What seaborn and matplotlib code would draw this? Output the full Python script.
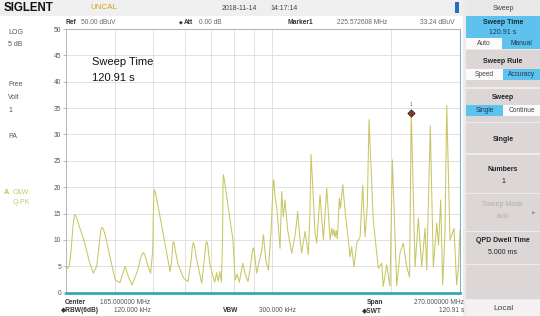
import matplotlib
matplotlib.use("Agg")
import matplotlib.pyplot as plt
from matplotlib.patches import Rectangle
from matplotlib.ticker import NullLocator, FixedLocator
import seaborn as sns
import pandas as pd

# ---------------- data ----------------
freq_mhz = [30.0, 30.3, 30.6, 30.9, 31.2, 31.45, 31.6, 31.8, 32.1, 33.3, 34.5, 35.2, 35.6, 35.9,
            36.4, 36.75, 37.0, 37.3, 37.7, 39.0, 40.0, 41.1, 42.4, 43.2, 44.1, 45.5, 46.6, 47.1, 47.6,
            48.2, 49.2, 49.8, 50.05, 50.25, 50.6, 51.2, 53.0, 55.1, 55.6, 55.95, 56.2, 56.5, 57.0,
            57.7, 58.4, 59.6, 61.2, 62.3, 62.8, 63.1, 63.5, 64.3, 66.3, 67.3, 67.9, 68.3, 68.7,
            69.5, 70.9, 71.6, 72.3, 73.0, 73.7, 74.4, 74.9, 75.1, 75.3, 75.8, 79.6, 80.6, 81.6,
            82.6, 84.3, 85.5, 86.9, 88.2, 89.2, 89.7, 90.3, 91.4, 94.2, 95.1, 96.5, 97.9, 99.5,
            100.6, 101.0, 101.8, 102.8, 104.8, 105.8, 106.8, 107.9, 109.5, 112.2, 114.5, 116.2,
            117.5, 118.9, 121.3, 123.6, 124.8, 125.6, 126.5, 128.6, 129.8, 132.4, 135.0, 137.7,
            140.4, 141.8, 142.6, 143.5, 144.5, 145.5, 146.5, 148.2, 149.2, 151.2, 153.2, 156.2,
            157.8, 159.3, 161.5, 164.1, 167.3, 169.9, 172.2, 174.5, 176.3, 180.7, 186.1, 189.8,
            191.6, 195.5, 199.3, 202.0, 207.3, 211.3, 215.4, 219.7, 223.4, 225.6, 230.7,
            235.2, 239.9, 244.6, 247.0, 252.2, 256.7, 261.9, 264.6, 268.0, 271.1, 274.8,
            277.6, 283.0, 289.7, 294.2, 297.4, 300.0]
level_dbuv = [5.0, 4.6, 5.2, 8.0, 12.0, 14.4, 14.8, 14.5, 13.6, 10.0, 5.5, 3.7, 4.5, 5.0,
              9.0, 11.8, 12.4, 12.1, 11.0, 6.0, 2.4, 1.9, 5.0, 3.0, 1.5, 4.0, 7.0, 7.6, 7.2,
              5.5, 3.7, 8.0, 17.5, 19.5, 19.0, 17.0, 11.0, 4.0, 6.0, 9.0, 9.7, 9.2, 7.5,
              5.5, 4.5, 2.8, 2.1, 6.0, 8.8, 9.5, 9.0, 6.5, 1.8, 6.0, 9.2, 9.7, 9.0,
              5.5, 3.0, 2.0, 3.8, 2.2, 4.0, 2.0, 10.0, 20.5, 22.4, 21.0, 10.0, 2.4, 3.5,
              2.0, 5.6, 3.5, 2.1, 5.0, 8.0, 8.5, 7.5, 3.7, 8.0, 11.0, 6.0, 4.3, 12.0,
              20.5, 21.4, 18.0, 16.3, 8.4, 19.2, 14.4, 17.6, 12.0, 7.5, 11.0, 15.4,
              11.0, 7.5, 11.6, 7.2, 15.0, 26.2, 22.0, 11.3, 9.4, 18.6, 10.0, 19.8,
              10.0, 12.3, 10.8, 12.0, 10.5, 11.8, 10.2, 17.9, 16.0, 20.5, 15.7, 10.0,
              6.8, 8.7, 4.9, 9.4, 10.6, 20.3, 10.6, 16.3, 32.8, 13.8, 4.6, 5.6,
              1.2, 5.3, 1.2, 25.2, 1.3, 7.5, 9.4, 4.9, 3.0, 34.5, 4.9,
              14.1, 4.9, 12.2, 4.3, 31.6, 4.9, 13.2, 9.0, 17.6, 1.5, 11.3,
              35.5, 10.0, 12.2, 1.5, 5.0, 11.9]
marker_freq = [225.572608]
marker_level = [34.0]
y_ticks = [0, 5, 10, 15, 20, 25, 30, 35, 40, 45, 50]
grid_freqs = [40, 50, 60, 70, 80, 90, 100, 200]

df = pd.DataFrame({"freq": freq_mhz, "level": level_dbuv})

# ---------------- figure ----------------
sns.set_theme(style="white")
plt.rcParams["font.family"] = ["Liberation Sans", "DejaVu Sans"]

W, H = 540, 316
fig = plt.figure(figsize=(W / 100, H / 100), dpi=100, facecolor="white")


def fx(x):
    return x / W


def fy(y):
    return 1 - y / H


def rect(x0, y0, x1, y1, color):
    fig.add_artist(Rectangle((fx(x0), fy(y1)), (x1 - x0) / W, (y1 - y0) / H,
                             transform=fig.transFigure, facecolor=color,
                             edgecolor="none", zorder=0))


def txt(x, y, s, size=5, color="#555555", weight="normal", ha="left", **kw):
    fig.text(fx(x), fy(y), s, fontsize=size, color=color, fontweight=weight,
             ha=ha, va="center", **kw)


# top bar
rect(0, 0, 463, 16, "#efefef")
txt(4, 8, "SIGLENT", size=8.3, color="#111111", weight="bold")
txt(90, 7.5, "UNCAL", size=5.8, color="#d4a214")
txt(222, 8, "2018-11-14", size=5, color="#444444")
txt(270, 8, "14:17:14", size=5, color="#444444")
rect(455, 2, 459, 13, "#1f6fc2")

# second row
txt(65, 22, "Ref", size=4.8, color="#333333", weight="bold")
txt(81, 22, "50.00 dBuV", size=4.8, color="#666666")
txt(179, 21.5, "\u25c6", size=3.5, color="#333333")
txt(184, 22, "Att", size=4.8, color="#333333", weight="bold")
txt(199, 22, "0.00 dB", size=4.8, color="#666666")
txt(288, 22, "Marker1", size=4.8, color="#333333", weight="bold")
txt(337, 22, "225.572608 MHz", size=4.8, color="#666666")
txt(420, 22, "33.24 dBuV", size=4.8, color="#666666")

# left panel
txt(8, 32, "LOG", size=5, color="#555555")
txt(8, 44, "5 dB", size=5, color="#555555")
txt(8, 84, "Free", size=5, color="#555555")
txt(8, 97, "Volt", size=5, color="#555555")
txt(8, 110, "1", size=5, color="#555555")
txt(8, 137, "PA", size=5, color="#555555")
txt(4, 192, "A", size=5.2, color="#c9c23a", weight="bold")
txt(13, 192, "C&W", size=5, color="#c8c870")
txt(13, 203, "Q-PK", size=5, color="#c8c870")

# bottom rows
txt(65, 302.5, "Center", size=4.8, color="#333333", weight="bold")
txt(100, 302.5, "165.000000 MHz", size=4.8, color="#555555")
txt(61, 311, "\u25c6RBW(6dB)", size=4.8, color="#333333", weight="bold")
txt(114, 311, "120.000 kHz", size=4.8, color="#555555")
txt(223, 311, "VBW", size=4.8, color="#333333", weight="bold")
txt(259, 311, "300.000 kHz", size=4.8, color="#555555")
txt(367, 302.5, "Span", size=4.8, color="#333333", weight="bold")
txt(464, 302.5, "270.000000 MHz", size=4.8, color="#555555", ha="right")
txt(362, 311, "\u25c6SWT", size=4.8, color="#333333", weight="bold")
txt(464, 311, "120.91 s", size=4.8, color="#555555", ha="right")

# right panel
blue = "#5ec2ee"
sec = "#dcd6d6"
rect(463, 0, 540, 316, "#eeeaea")
rect(466, 0, 540, 15, "#e9e9e9")
txt(503, 8, "Sweep", size=5, color="#444444", ha="center")
rect(466, 16.5, 540, 38.5, blue)
txt(503, 22.5, "Sweep Time", size=5, color="#1a2a3a", weight="bold", ha="center")
txt(503, 33, "120.91 s", size=5, color="#1a3550", ha="center")
rect(466, 38.5, 501.5, 48.5, "#fbfbfb")
rect(501.5, 38.5, 540, 48.5, blue)
txt(484, 43.5, "Auto", size=4.8, color="#444444", ha="center")
txt(521, 43.5, "Manual", size=4.8, color="#1a3550", ha="center")

rect(466, 50, 540, 87, sec)
txt(503, 61.5, "Sweep Rule", size=5, color="#222222", weight="bold", ha="center")
rect(466, 69, 503, 80, "#fbfbfb")
rect(503, 69, 540, 80, blue)
txt(484.5, 74.5, "Speed", size=4.8, color="#444444", ha="center")
txt(521.5, 74.5, "Accuracy", size=4.8, color="#1a3550", ha="center")

rect(466, 88.5, 540, 122, sec)
txt(503, 97.5, "Sweep", size=5, color="#222222", weight="bold", ha="center")
rect(466, 105, 503, 116, blue)
rect(503, 105, 540, 116, "#fbfbfb")
txt(484.5, 110.5, "Single", size=4.8, color="#1a3550", ha="center")
txt(521.5, 110.5, "Continue", size=4.8, color="#444444", ha="center")

rect(466, 123.5, 540, 153.5, sec)
txt(503, 140, "Single", size=5, color="#222222", weight="bold", ha="center")

rect(466, 155, 540, 192.5, sec)
txt(503, 169.5, "Numbers", size=5, color="#222222", weight="bold", ha="center")
txt(503, 181.5, "1", size=5, color="#222222", ha="center")

rect(466, 194, 540, 230.5, sec)
txt(503, 204.5, "Sweep Mode", size=5, color="#b4b0b0", ha="center")
txt(503, 216.5, "auto", size=4.8, color="#b4b0b0", ha="center")
txt(534, 212, "\u25b6", size=3.5, color="#a09c9c", ha="center")

rect(466, 232, 540, 263.5, sec)
txt(503, 240.5, "QPD Dwell Time", size=5, color="#222222", weight="bold", ha="center")
txt(503, 252.5, "5.000 ms", size=5, color="#222222", ha="center")

rect(466, 265, 540, 298.5, sec)
rect(466, 300, 540, 316, "#f3f1f1")
txt(503, 308, "Local", size=6, color="#444444", ha="center")

# ---------------- plot ----------------
ax = fig.add_axes([fx(66), fy(292.7), (460 - 66) / W, (292.7 - 29) / H])
ax.set_facecolor("white")
sns.lineplot(data=df, x="freq", y="level", ax=ax, color="#c8c664",
             linewidth=0.75, estimator=None, sort=False, legend=False)
ax.set_xscale("log")
ax.set_xlim(30, 300)
ax.set_ylim(0, 50)
ax.xaxis.set_major_locator(FixedLocator(grid_freqs))
ax.xaxis.set_minor_locator(NullLocator())
ax.set_xticklabels([])
ax.set_yticks(y_ticks)
ax.set_yticklabels([str(v) for v in y_ticks])
ax.tick_params(axis="x", length=0)
ax.tick_params(axis="y", length=2.5, width=0.5, color="#999999",
               labelsize=4.8, labelcolor="#555555", pad=1, left=True)
ax.grid(True, color="#dcdcdc", linewidth=0.6)
ax.set_axisbelow(True)
ax.set_xlabel("")
ax.set_ylabel("")
for side in ["left", "top"]:
    ax.spines[side].set_color("#aaaaaa")
    ax.spines[side].set_linewidth(0.6)
ax.spines["right"].set_color("#7ab6c6")
ax.spines["right"].set_linewidth(0.8)
ax.spines["bottom"].set_color("#33a9ab")
ax.spines["bottom"].set_linewidth(2.0)

sns.scatterplot(x=marker_freq, y=marker_level, ax=ax, marker="D", s=14,
                color="#8a3a1c", edgecolor="#222222", linewidth=0.5,
                legend=False, zorder=5)
ax.text(marker_freq[0], marker_level[0] + 1.3, "1", fontsize=3.5,
        color="#666666", ha="center", va="bottom")

ax.text((92 - 66) / (460 - 66), 1 - (62 - 29) / (292.7 - 29), "Sweep Time",
        transform=ax.transAxes, fontsize=8, color="#111111", va="center", ha="left")
ax.text((92 - 66) / (460 - 66), 1 - (78 - 29) / (292.7 - 29), "120.91 s",
        transform=ax.transAxes, fontsize=8, color="#111111", va="center", ha="left")

fig.savefig("out.png", dpi=100, facecolor="white")
